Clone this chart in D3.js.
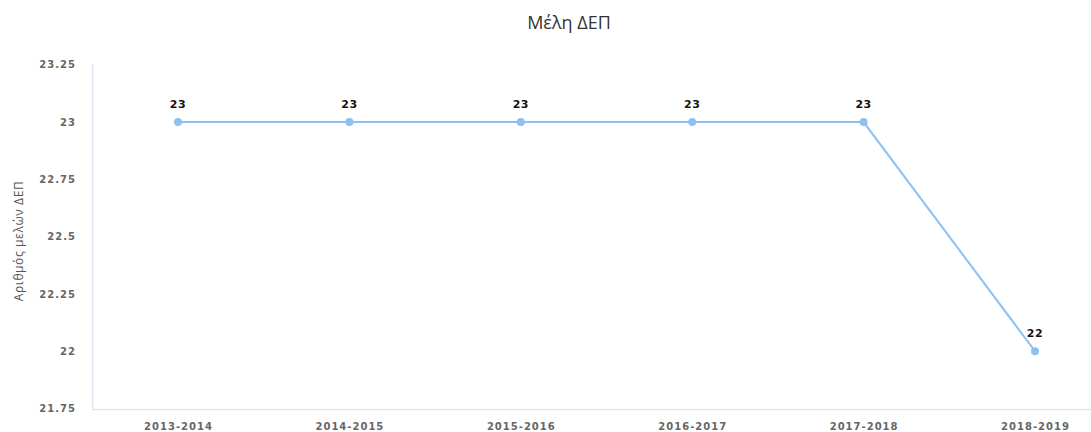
<!DOCTYPE html>
<html><head><meta charset="utf-8">
<script src="https://cdn.jsdelivr.net/npm/d3@7"></script>
<style>body{margin:0;background:#fff;font-family:"Open Sans","DejaVu Sans",sans-serif;}</style>
</head><body><svg id="c" width="1091" height="432"></svg>
<script>
const categories = ["2013-2014","2014-2015","2015-2016","2016-2017","2017-2018","2018-2019"];
const values = [23,23,23,23,23,22];
const yTicks = [21.75,22,22.25,22.5,22.75,23,23.25];
const title = "Μέλη ΔΕΠ";
const yTitle = "Αριθμός μελών ΔΕΠ";

const svg = d3.select("#c");
const x = d3.scalePoint().domain(categories).range([178,1035]);
const y = d3.scaleLinear().domain([21.75,23.25]).range([408.5,64.75]);

svg.append("text").attr("x",569).attr("y",29).attr("text-anchor","middle")
  .attr("font-size",18).attr("fill","#333").text(title);

svg.append("line").attr("x1",92.5).attr("x2",92.5).attr("y1",64).attr("y2",409)
  .attr("stroke","#dfe6f2").attr("stroke-width",1.5);
svg.append("line").attr("x1",92).attr("x2",1091).attr("y1",409.5).attr("y2",409.5)
  .attr("stroke","#dfe6f2").attr("stroke-width",1.5);

const ya = svg.append("g").attr("transform","translate(76,0)")
  .call(d3.axisLeft(y).tickValues(yTicks).tickSize(0).tickPadding(0).tickFormat(d=>String(d)));
ya.select(".domain").remove();
ya.selectAll("text").attr("font-size",10).attr("fill","#666").attr("font-weight","bold")
  .attr("letter-spacing",1).attr("font-family","'DejaVu Sans',sans-serif");

const xa = svg.append("g").attr("transform","translate(0,430)")
  .call(d3.axisBottom(x).tickSize(0).tickPadding(0));
xa.select(".domain").remove();
xa.selectAll("text").attr("font-size",10).attr("fill","#666").attr("font-weight","bold")
  .attr("letter-spacing",1).attr("dy","0").attr("font-family","'DejaVu Sans',sans-serif");

svg.append("text").attr("transform","translate(23,241) rotate(-90)").attr("text-anchor","middle")
  .attr("font-size",12).attr("letter-spacing",0.6).attr("fill","#555").text(yTitle);

const data = categories.map((c,i)=>({c,v:values[i]}));
svg.append("path").datum(data).attr("fill","none").attr("stroke","#8cc1f0").attr("stroke-width",2)
  .attr("d",d3.line().x(d=>x(d.c)).y(d=>y(d.v)));
svg.selectAll("circle.p").data(data).join("circle").attr("class","p")
  .attr("cx",d=>x(d.c)).attr("cy",d=>y(d.v)).attr("r",4).attr("fill","#8cc1f0");
svg.selectAll("text.l").data(data).join("text").attr("class","l")
  .attr("x",d=>x(d.c)).attr("y",d=>y(d.v)-14).attr("text-anchor","middle")
  .attr("font-size",11).attr("font-weight","bold").attr("fill","#111").attr("letter-spacing",0.5)
  .attr("font-family","'DejaVu Sans',sans-serif").text(d=>d.v);
</script></body></html>
